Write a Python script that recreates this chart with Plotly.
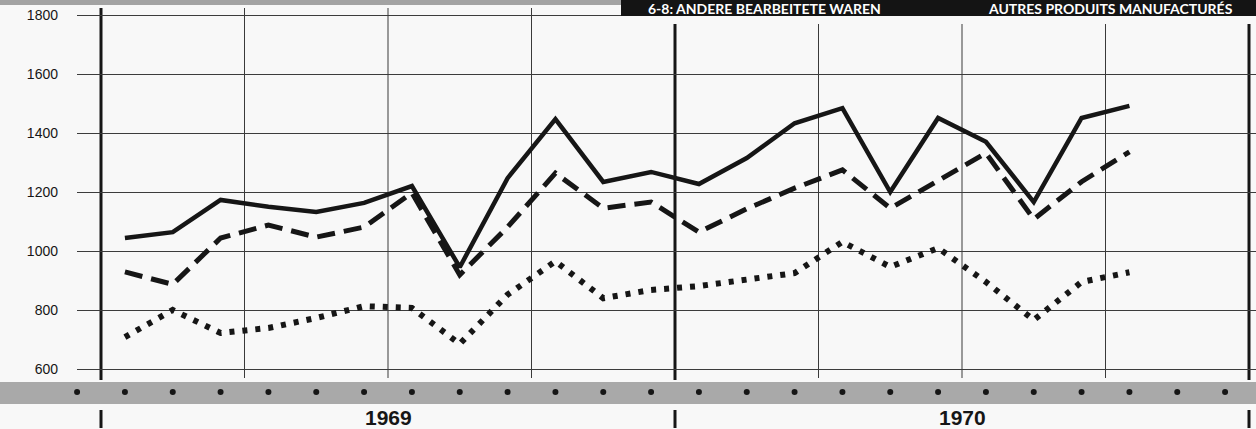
import plotly.graph_objects as go

# ---------------- data (monthly, Jan 1969 .. Oct 1970) ----------------
months = ["1969-01", "1969-02", "1969-03", "1969-04", "1969-05", "1969-06",
          "1969-07", "1969-08", "1969-09", "1969-10", "1969-11", "1969-12",
          "1970-01", "1970-02", "1970-03", "1970-04", "1970-05", "1970-06",
          "1970-07", "1970-08", "1970-09", "1970-10"]
solid = [1044, 1064, 1173, 1150, 1132, 1163, 1220, 945, 1247, 1447, 1234, 1268,
         1227, 1315, 1433, 1484, 1200, 1451, 1370, 1166, 1451, 1492]
dashed = [929, 887, 1044, 1088, 1047, 1081, 1197, 919, 1081, 1264, 1145, 1166,
          1064, 1143, 1213, 1275, 1145, 1240, 1332, 1108, 1235, 1336]
dotted = [708, 800, 722, 739, 773, 813, 807, 685, 852, 965, 840, 868,
          881, 905, 925, 1031, 946, 1010, 895, 766, 895, 928]
y_ticks = [600, 800, 1000, 1200, 1400, 1600, 1800]
years = ["1969", "1970"]
header_left = "6-8: ANDERE BEARBEITETE WAREN"
header_right = "AUTRES PRODUITS MANUFACTURÉS"

# month position on a numeric axis: 0 = start of Jan 1969, 1 unit = 1 month
x_pos = [i + 0.5 for i in range(len(months))]

W, H = 1256, 429
ML = 77
PW = W - ML
PXM = (1249 - 101) / 24.0          # pixels per month
PXV = 0.295                        # pixels per value unit
X0 = -(101 - ML) / PXM
X1 = 24 + (W - 1249) / PXM
Y1 = 1800 + 15 / PXV
Y0 = Y1 - H / PXV


def px(p):      # figure pixel x -> paper x
    return (p - ML) / PW


def py(p):      # figure pixel y -> paper y
    return 1 - p / H


INK = "#161616"
fig = go.Figure()

fig.add_trace(go.Scatter(x=x_pos, y=dotted, mode="lines", name="dotted",
                         line=dict(color=INK, width=6, dash="5px,8px"),
                         hoverinfo="skip"))
fig.add_trace(go.Scatter(x=x_pos, y=dashed, mode="lines", name="dashed",
                         line=dict(color=INK, width=5, dash="18px,9px"),
                         hoverinfo="skip"))
fig.add_trace(go.Scatter(x=x_pos, y=solid, mode="lines", name="solid",
                         line=dict(color=INK, width=4.5),
                         hoverinfo="skip"))

shapes = []
# top decorative strip and black header box
shapes.append(dict(type="rect", xref="paper", yref="paper",
                   x0=px(0), x1=px(621), y0=py(5), y1=py(0),
                   fillcolor="#a3a3a3", line_width=0, layer="above"))
shapes.append(dict(type="rect", xref="paper", yref="paper",
                   x0=px(621), x1=px(W), y0=py(16), y1=py(0),
                   fillcolor="#141414", line_width=0, layer="above"))
# bottom gray band
shapes.append(dict(type="rect", xref="paper", yref="paper",
                   x0=px(0), x1=px(W), y0=py(404), y1=py(382),
                   fillcolor="#a9a9a9", line_width=0, layer="below"))
# vertical quarter lines
for q in range(0, 25, 3):
    thick = q % 12 == 0
    top = 8 if q < 12 else 24
    bottom = 380 if thick else 378
    shapes.append(dict(type="line", xref="x", yref="paper",
                       x0=q, x1=q, y0=py(bottom), y1=py(top),
                       line=dict(color=INK if thick else "#3a3a3a",
                                 width=3 if thick else 1),
                       layer="below"))
# year tick marks under the band
for q in (0, 12, 24):
    shapes.append(dict(type="line", xref="x", yref="paper",
                       x0=q, x1=q, y0=py(428), y1=py(410),
                       line=dict(color=INK, width=3)))

# band dots (one per month)
band_x = [k + 0.5 for k in range(-2, 24)]
fig.add_trace(go.Scatter(x=band_x, y=[Y1 - 392 / PXV] * len(band_x),
                         mode="markers", marker=dict(color=INK, size=6),
                         hoverinfo="skip", cliponaxis=False))

year_font = dict(family="Liberation Sans Narrow, Arial Narrow, Liberation Sans",
                 size=21, color=INK, weight="bold")
head_font = dict(family="Lato, Open Sans, DejaVu Sans", size=14, color="white",
                 weight="bold")
annotations = [
    dict(text=years[0], x=6, xref="x", y=py(417), yref="paper",
         showarrow=False, font=year_font, xanchor="center", yanchor="middle"),
    dict(text=years[1], x=18, xref="x", y=py(417), yref="paper",
         showarrow=False, font=year_font, xanchor="center", yanchor="middle"),
    dict(text=header_left, x=px(646), xref="paper", y=py(8), yref="paper",
         showarrow=False, font=head_font, xanchor="left", yanchor="middle"),
    dict(text=header_right, x=px(986), xref="paper", y=py(8), yref="paper",
         showarrow=False, font=head_font, xanchor="left", yanchor="middle"),
]

fig.update_layout(
    width=W, height=H,
    margin=dict(l=ML, r=0, t=0, b=0, pad=0),
    paper_bgcolor="#f8f8f8", plot_bgcolor="#f8f8f8",
    showlegend=False,
    shapes=shapes, annotations=annotations,
    xaxis=dict(range=[X0, X1], showgrid=False, zeroline=False,
               showticklabels=False, ticks="", fixedrange=True),
    yaxis=dict(range=[Y0, Y1], tickvals=y_ticks,
               ticktext=[str(v) for v in y_ticks],
               showgrid=True, gridcolor="#3c3c3c", gridwidth=1,
               zeroline=False, ticks="", ticklabelstandoff=18,
               tickfont=dict(family="Liberation Sans, Arial", size=14, color=INK),
               fixedrange=True),
)

fig.write_html("out.html", config={"displayModeBar": False},
               post_script="document.body.style.margin='0';document.body.style.overflow='hidden';")
